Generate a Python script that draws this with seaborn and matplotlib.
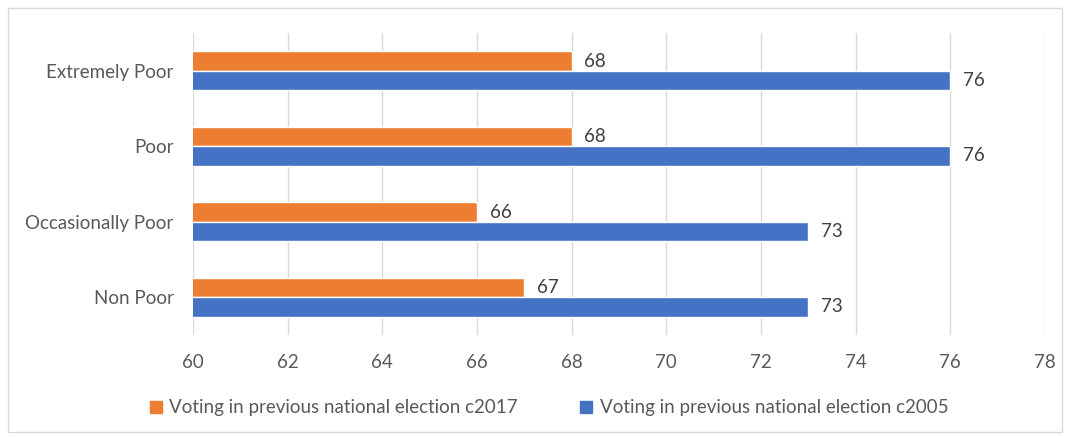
import pandas as pd
import matplotlib.pyplot as plt
import matplotlib.patches as mpatches
import seaborn as sns

# Chart data
categories = ["Extremely Poor", "Poor", "Occasionally Poor", "Non Poor"]
series_names = ["Voting in previous national election c2017",
                "Voting in previous national election c2005"]
values_2017 = [68, 68, 66, 67]
values_2005 = [76, 76, 73, 73]
x_ticks = [60, 62, 64, 66, 68, 70, 72, 74, 76, 78]

colors = {series_names[0]: "#ED7D31", series_names[1]: "#4472C4"}

df = pd.DataFrame({
    "Category": categories * 2,
    "Series": [series_names[0]] * 4 + [series_names[1]] * 4,
    "Value": values_2017 + values_2005,
})

sns.set_style("white")
plt.rcParams["font.family"] = ["Lato", "DejaVu Sans"]
text_color = "#595959"
fs = 13.5

fig = plt.figure(figsize=(10.67, 4.37), dpi=100)
ax = fig.add_axes([0.1809, 0.2334, 0.9794 - 0.1809, 0.9245 - 0.2334])

sns.barplot(data=df, y="Category", x="Value", hue="Series", order=categories,
            hue_order=series_names, palette=colors, orient="h", width=0.51,
            gap=0, saturation=1, ax=ax, legend=False)

ax.set_xlim(60, 78)
ax.set_xticks(x_ticks)
ax.set_xlabel("")
ax.set_ylabel("")
ax.grid(axis="x", color="#D9D9D9", linewidth=1)
ax.set_axisbelow(True)
for s in ax.spines.values():
    s.set_visible(False)
ax.tick_params(axis="x", length=0, pad=14, labelsize=fs, colors=text_color)
ax.tick_params(axis="y", length=0, pad=14, labelsize=fs, colors=text_color)

# Data labels
for container in ax.containers:
    ax.bar_label(container, fmt="%d", padding=9, fontsize=fs, color="#404040")

# Legend at the bottom
handles = [mpatches.Patch(color=colors[n], label=n) for n in series_names]
fig.legend(handles=handles, loc="center", bbox_to_anchor=(549 / 1067, 1 - 408 / 437),
           ncol=2, frameon=False, fontsize=fs, labelcolor=text_color,
           handlelength=0.65, handleheight=0.65, handletextpad=0.4, columnspacing=3.3)

# Chart border
fig.patches.append(mpatches.Rectangle((8 / 1067, 5 / 437), 1054 / 1067, 424 / 437,
                                      transform=fig.transFigure, fill=False,
                                      edgecolor="#D9D9D9", linewidth=1))

fig.savefig("out.png", dpi=100)
plt.close()
